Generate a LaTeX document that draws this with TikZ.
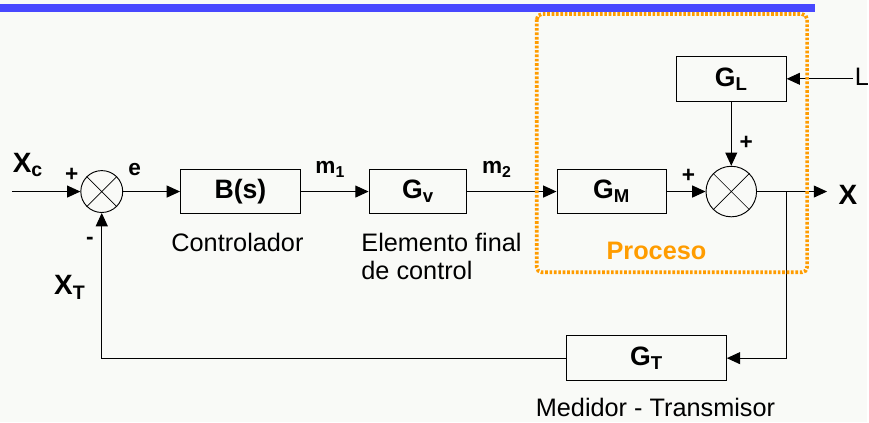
\documentclass[tikz,border=0pt]{standalone}
\usepackage{fontspec}
\setmainfont{Liberation Sans}
\usetikzlibrary{arrows.meta}
\definecolor{fondo}{RGB}{249,250,247}
\definecolor{barra}{RGB}{72,72,255}
\definecolor{naranja}{RGB}{255,156,0}

\begin{document}
\begin{tikzpicture}[x=0.75pt,y=-0.75pt,
  bloque/.style={draw,line width=0.8pt,minimum height=33.5pt,inner sep=0pt,
    font=\fontsize{20}{24}\selectfont\bfseries},
  suma/.style={draw,circle,line width=0.7pt,inner sep=0pt},
  senal/.style={line width=0.8pt,-{Triangle[length=10pt,width=9pt]}},
  etq/.style={font=\fontsize{21}{24}\selectfont\bfseries,inner sep=0pt},
  var/.style={font=\fontsize{17}{20}\selectfont\bfseries,inner sep=0pt},
  signo/.style={font=\fontsize{17}{20}\selectfont\bfseries,inner sep=0pt},
  texto/.style={font=\fontsize{19}{20}\selectfont,inner sep=0pt}]
  % fondo y barra superior
  \fill[fondo] (0,0) rectangle (869,423);
  \fill[barra] (0,4) rectangle (817,12);
  % bloques
  \node[bloque,minimum width=90pt] (bs) at (241,192) {B(s)};
  \node[bloque,minimum width=73.5pt] (gv) at (419,192) {G\textsubscript{v}};
  \node[bloque,minimum width=82pt] (gm) at (613,192) {G\textsubscript{M}};
  \node[bloque,minimum width=82.5pt] (gl) at (733,79) {G\textsubscript{L}};
  \node[bloque,minimum width=120pt] (gt) at (648,359) {G\textsubscript{T}};
  % sumadores
  \node[suma,minimum size=31.5pt] (s1) at (102,192) {};
  \node[suma,minimum size=38pt] (s2) at (733,192) {};
  \draw[line width=0.5pt] (s1.north west)--(s1.south east) (s1.north east)--(s1.south west);
  \draw[line width=0.5pt] (s2.north west)--(s2.south east) (s2.north east)--(s2.south west);
  % extremos libres
  \coordinate (xc) at (12,192);
  \coordinate (lin) at (855,79);
  \coordinate (xout) at (829,192);
  \coordinate (tap) at (788,192);
  % senales
  \draw[senal] (xc) -- (s1);
  \draw[senal] (s1) -- (bs);
  \draw[senal] (bs) -- (gv);
  \draw[senal] (gv) -- (gm);
  \draw[senal] (gm) -- (s2);
  \draw[senal] (s2) -- (xout);
  \draw[senal] (lin) -- (gl);
  \draw[senal] (gl) -- (s2);
  \draw[senal] (tap) |- (gt);
  \draw[senal] (gt) -| (s1);
  % proceso
  \draw[naranja,line width=2.8pt,dash pattern=on 2pt off 1.3pt,rounded corners=4pt]
    (538,14) rectangle (809,273);
  \node[text=naranja,font=\fontsize{19}{22}\selectfont\bfseries] (proc) at (658,252) {Proceso};
  % etiquetas
  \node[etq] (lxc) at (28,165) {X\textsubscript{c}};
  \node[etq] (lxt) at (70,288) {X\textsubscript{T}};
  \node[etq] (lx) at (850,195) {X};
  \node[texto] (ll) at (864,77) {L};
  \node[var] (le) at (135,170) {e};
  \node[var] (lm1) at (331,170) {m\textsubscript{1}};
  \node[var] (lm2) at (498,170) {m\textsubscript{2}};
  \node[signo] (p1) at (72,175) {+};
  \node[signo] (n1) at (90,241) {-};
  \node[signo] (p2) at (690,176) {+};
  \node[signo] (p3) at (748,143) {+};
  \node[texto] (ctrl) at (238,243) {Controlador};
  \node[texto,align=left,anchor=west] (efc) at (362,257) {Elemento final\\[1pt]de control};
  \node[texto] (mt) at (657,408) {Medidor - Transmisor};
\end{tikzpicture}
\end{document}
